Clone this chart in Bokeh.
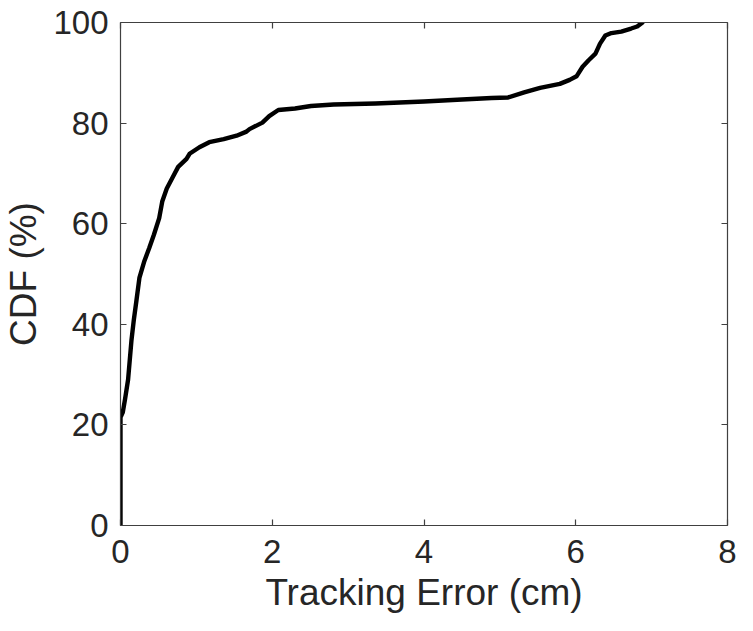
from bokeh.plotting import figure
from bokeh.models import Range1d, LinearAxis, FixedTicker, CustomJSTickFormatter
from bokeh.embed import file_html
from bokeh.resources import INLINE

# Data
error_cm = [0, 0, 0.03, 0.06, 0.10, 0.145, 0.175, 0.21, 0.25, 0.315, 0.38, 0.44, 0.51,
            0.55, 0.61, 0.70, 0.76, 0.87, 0.91, 1.04, 1.17, 1.36, 1.53, 1.66, 1.70,
            1.87, 1.96, 2.08, 2.30, 2.51, 2.81, 3.36, 4.0, 4.5, 4.89, 5.11, 5.32,
            5.53, 5.79, 5.92, 6.01, 6.09, 6.17, 6.26, 6.32, 6.39, 6.47, 6.60, 6.73,
            6.81, 6.88]
cdf_pct = [0, 21.5, 22.5, 25.1, 29.0, 36.9, 40.8, 44.7, 49.3, 52.6, 55.2, 57.8, 61.1,
           64.4, 67.0, 69.6, 71.3, 72.9, 73.9, 75.2, 76.2, 76.8, 77.5, 78.3, 78.8,
           80.1, 81.4, 82.6, 82.9, 83.4, 83.7, 83.9, 84.3, 84.7, 85.0, 85.1, 86.1,
           87.0, 87.8, 88.6, 89.3, 91.2, 92.5, 93.8, 95.8, 97.4, 97.9, 98.2, 98.8,
           99.2, 100]
x_ticks = [0, 2, 4, 6, 8]
y_ticks = [0, 20, 40, 60, 80, 100]

FONT = "Liberation Sans"
AX_COLOR = "#404040"
TXT_COLOR = "#262626"

p = figure(width=737, height=615, output_backend="svg", toolbar_location=None,
           x_range=Range1d(0, 8), y_range=Range1d(0, 100),
           min_border_left=0, min_border_right=10, min_border_top=22, min_border_bottom=0)
p.xgrid.visible = False
p.ygrid.visible = False
p.outline_line_color = None
p.background_fill_color = "white"
p.border_fill_color = "white"

p.line(error_cm, cdf_pct, line_color="black", line_width=4.4, line_join="round", line_cap="round")

def style(ax, ticks, show_labels):
    ax.ticker = FixedTicker(ticks=ticks)
    ax.major_tick_in = 6
    ax.major_tick_out = 0
    ax.minor_tick_line_color = None
    ax.axis_line_color = AX_COLOR
    ax.axis_line_width = 1.2
    ax.major_tick_line_color = AX_COLOR
    ax.major_tick_line_width = 1.2
    ax.major_label_text_font = FONT
    ax.major_label_text_color = TXT_COLOR
    if show_labels:
        ax.major_label_text_font_size = "33px"
    else:
        ax.formatter = CustomJSTickFormatter(code="return ''")
        ax.major_label_text_font_size = "1px"
        ax.major_label_standoff = 0

xa = p.xaxis[0]
style(xa, x_ticks, True)
xa.axis_label = "Tracking Error (cm)"
xa.axis_label_text_font = FONT
xa.axis_label_text_font_size = "37px"
xa.axis_label_text_font_style = "normal"
xa.axis_label_text_color = TXT_COLOR
xa.major_label_standoff = 14
xa.axis_label_standoff = 6

ya = p.yaxis[0]
style(ya, y_ticks, True)
ya.axis_label = "CDF (%)"
ya.axis_label_text_font = FONT
ya.axis_label_text_font_size = "37px"
ya.axis_label_text_font_style = "normal"
ya.axis_label_text_color = TXT_COLOR
ya.major_label_standoff = 12
ya.axis_label_standoff = 6

top = LinearAxis()
style(top, x_ticks, False)
p.add_layout(top, "above")
right = LinearAxis()
style(right, y_ticks, False)
p.add_layout(right, "right")

open("out.html", "w").write(file_html(p, INLINE))
